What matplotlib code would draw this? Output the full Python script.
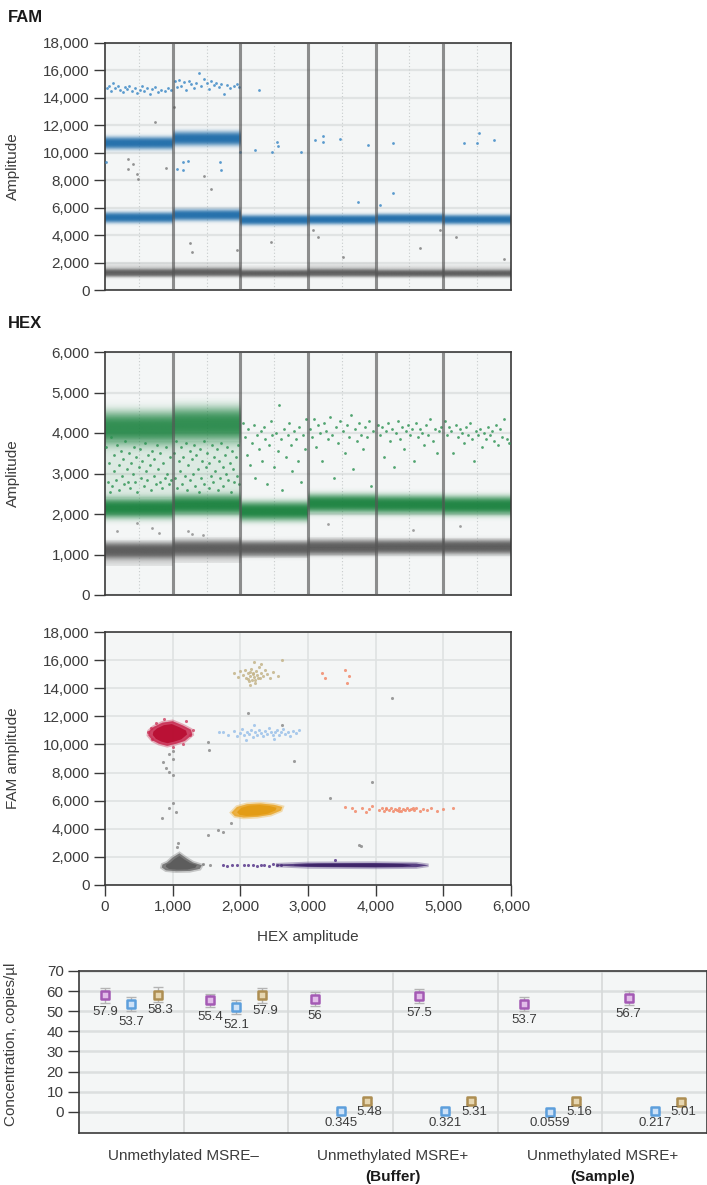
import numpy as np
import matplotlib.pyplot as plt
from matplotlib.patches import Polygon
from matplotlib.colors import to_rgb
from matplotlib.ticker import FuncFormatter, MultipleLocator

plt.rcParams['font.family'] = ['Liberation Sans', 'DejaVu Sans']

# ---------------- FAM 1-D plot (6 wells, amplitude bands) ----------------
fam_neg_mid = [1220, 1270, 1200, 1220, 1200, 1200]
fam_neg_half = [230, 240, 210, 220, 210, 210]
fam_neg_top = [1950, 2000, 1850, 1950, 1900, 1900]
fam_mid = [5250, 5450, 5050, 5150, 5200, 5100]
fam_mid_half = [300, 330, 290, 280, 270, 280]
fam_high = [10700, 11000]
fam_high_half = [360, 400]

# sparse droplets: (well, position in well, amplitude)
fam_blue_pts = [
    (0, 0.03, 14700), (0, 0.06, 14900), (0, 0.09, 14500), (0, 0.12, 15100), (0, 0.15, 14700),
    (0, 0.19, 14850), (0, 0.22, 14600), (0, 0.26, 14450), (0, 0.29, 14800), (0, 0.33, 14650),
    (0, 0.36, 14900), (0, 0.40, 14500), (0, 0.44, 14750), (0, 0.48, 14350), (0, 0.51, 14600),
    (0, 0.55, 14850), (0, 0.58, 14500), (0, 0.62, 14700), (0, 0.66, 14300), (0, 0.70, 14650),
    (0, 0.74, 14800), (0, 0.78, 14400), (0, 0.83, 14600), (0, 0.88, 14500), (0, 0.93, 14750),
    (0, 0.97, 14550), (0, 0.02, 9350),
    (1, 0.03, 15200), (1, 0.06, 14800), (1, 0.10, 15300), (1, 0.13, 14900), (1, 0.17, 15150),
    (1, 0.20, 14600), (1, 0.24, 15250), (1, 0.27, 15000), (1, 0.31, 14700), (1, 0.35, 15100),
    (1, 0.39, 15850), (1, 0.42, 14900), (1, 0.46, 15350), (1, 0.50, 15050), (1, 0.53, 14650),
    (1, 0.57, 15200), (1, 0.61, 14950), (1, 0.64, 15100), (1, 0.68, 14800), (1, 0.72, 15000),
    (1, 0.76, 14300), (1, 0.80, 14950), (1, 0.85, 14700), (1, 0.90, 14850), (1, 0.95, 15000),
    (1, 0.98, 14800), (1, 0.15, 9300), (1, 0.22, 9400), (1, 0.06, 8800), (1, 0.15, 8780),
    (1, 0.70, 9300), (1, 0.72, 8770),
    (2, 0.28, 14600), (2, 0.00, 10050), (2, 0.22, 10200), (2, 0.47, 10080), (2, 0.54, 10800),
    (2, 0.56, 10500), (2, 0.89, 10040),
    (3, 0.11, 10930), (3, 0.22, 11250), (3, 0.22, 10800), (3, 0.47, 10980), (3, 0.88, 10590),
    (3, 0.74, 6390),
    (4, 0.26, 10740), (4, 0.26, 7050), (4, 0.07, 6200),
    (5, 0.31, 10690), (5, 0.50, 10690), (5, 0.52, 11470), (5, 0.75, 10930),
]
fam_gray_pts = [
    (0, 0.34, 9530), (0, 0.41, 9180), (0, 0.34, 8850), (0, 0.47, 8430), (0, 0.49, 8090),
    (0, 0.74, 12270), (0, 0.90, 8920),
    (1, 0.02, 13300), (1, 0.47, 8310), (1, 0.57, 7380), (1, 0.25, 3400), (1, 0.28, 2800),
    (1, 0.95, 2920),
    (2, 0.46, 3500), (3, 0.08, 4370), (3, 0.15, 3830), (3, 0.52, 2430),
    (4, 0.66, 3040), (4, 0.95, 4370), (5, 0.18, 3880), (5, 0.90, 2240),
]

# ---------------- HEX 1-D plot ----------------
hex_neg_mid = [1100, 1150, 1140, 1170, 1180, 1180]
hex_neg_half = [150, 150, 140, 140, 130, 130]
hex_neg_lo = [720, 800, 920, 980, 1000, 1000]
hex_neg_hi = [1330, 1400, 1350, 1420, 1400, 1400]
hex_mid = [2150, 2230, 2080, 2250, 2220, 2200]
hex_mid_half = [200, 200, 190, 180, 180, 180]
hex_high = [4100, 4200]
hex_high_half = [320, 340]

hex_rain = [
    (0, 0.02, 3650), (0, 0.04, 2800), (0, 0.06, 3250), (0, 0.07, 2550), (0, 0.09, 3900),
    (0, 0.11, 2700), (0, 0.13, 3450), (0, 0.14, 3050), (0, 0.16, 2850), (0, 0.18, 3700),
    (0, 0.20, 3200), (0, 0.21, 2600), (0, 0.23, 3550), (0, 0.25, 2950), (0, 0.27, 3350),
    (0, 0.28, 2750), (0, 0.30, 3800), (0, 0.32, 3100), (0, 0.34, 2800), (0, 0.36, 3500),
    (0, 0.37, 2650), (0, 0.39, 3250), (0, 0.41, 3000), (0, 0.43, 3650), (0, 0.44, 2800),
    (0, 0.46, 3400), (0, 0.48, 2550), (0, 0.50, 3150), (0, 0.52, 3600), (0, 0.53, 2900),
    (0, 0.55, 3300), (0, 0.57, 2700), (0, 0.59, 3750), (0, 0.61, 3050), (0, 0.62, 2850),
    (0, 0.64, 3450), (0, 0.66, 3200), (0, 0.68, 2600), (0, 0.70, 3550), (0, 0.72, 2950),
    (0, 0.73, 3350), (0, 0.75, 2750), (0, 0.77, 3700), (0, 0.79, 3100), (0, 0.81, 2800),
    (0, 0.82, 3500), (0, 0.84, 2650), (0, 0.86, 3250), (0, 0.88, 2900), (0, 0.90, 3650),
    (0, 0.92, 3000), (0, 0.94, 2750), (0, 0.96, 3400), (0, 0.98, 2850),
    (1, 0.02, 3500), (1, 0.04, 2900), (1, 0.05, 3800), (1, 0.07, 2650), (1, 0.09, 3300),
    (1, 0.11, 3050), (1, 0.12, 3650), (1, 0.14, 2750), (1, 0.16, 3400), (1, 0.18, 2950),
    (1, 0.19, 3750), (1, 0.21, 2600), (1, 0.23, 3200), (1, 0.25, 3550), (1, 0.26, 2850),
    (1, 0.28, 3350), (1, 0.30, 3000), (1, 0.32, 3700), (1, 0.33, 2700), (1, 0.35, 3450),
    (1, 0.37, 3100), (1, 0.39, 2550), (1, 0.40, 3600), (1, 0.42, 2900), (1, 0.44, 3300),
    (1, 0.46, 3800), (1, 0.47, 2750), (1, 0.49, 3150), (1, 0.51, 3500), (1, 0.53, 2650),
    (1, 0.54, 3250), (1, 0.56, 2950), (1, 0.58, 3700), (1, 0.60, 2800), (1, 0.61, 3400),
    (1, 0.63, 3050), (1, 0.65, 3600), (1, 0.67, 2600), (1, 0.68, 3300), (1, 0.70, 2900),
    (1, 0.72, 3750), (1, 0.74, 3150), (1, 0.75, 2700), (1, 0.77, 3450), (1, 0.79, 3000),
    (1, 0.81, 3650), (1, 0.82, 2850), (1, 0.84, 3250), (1, 0.86, 2550), (1, 0.88, 3550),
    (1, 0.89, 3100), (1, 0.91, 2800), (1, 0.93, 3400), (1, 0.95, 2950), (1, 0.97, 3700),
    (1, 0.98, 2750),
    (2, 0.04, 4250), (2, 0.07, 3900), (2, 0.10, 3450), (2, 0.12, 4100), (2, 0.15, 3200),
    (2, 0.17, 3750), (2, 0.20, 4200), (2, 0.22, 2900), (2, 0.25, 3950), (2, 0.27, 3600),
    (2, 0.30, 4050), (2, 0.32, 3300), (2, 0.35, 4150), (2, 0.37, 3850), (2, 0.40, 2750),
    (2, 0.42, 3700), (2, 0.45, 4300), (2, 0.47, 3950), (2, 0.50, 3150), (2, 0.52, 4000),
    (2, 0.55, 3550), (2, 0.57, 4700), (2, 0.60, 3850), (2, 0.62, 2600), (2, 0.65, 4100),
    (2, 0.67, 3400), (2, 0.70, 3950), (2, 0.72, 4250), (2, 0.75, 3700), (2, 0.77, 3050),
    (2, 0.80, 4050), (2, 0.82, 3850), (2, 0.85, 3300), (2, 0.87, 4150), (2, 0.90, 2800),
    (2, 0.92, 3950), (2, 0.95, 3600), (2, 0.97, 4350),
    (3, 0.03, 4100), (3, 0.06, 3900), (3, 0.09, 4350), (3, 0.12, 3650), (3, 0.15, 4200),
    (3, 0.18, 4000), (3, 0.21, 3300), (3, 0.24, 4250), (3, 0.27, 4050), (3, 0.30, 3850),
    (3, 0.33, 4400), (3, 0.36, 3950), (3, 0.39, 2900), (3, 0.42, 4150), (3, 0.45, 3750),
    (3, 0.48, 4300), (3, 0.51, 4050), (3, 0.54, 3500), (3, 0.57, 4200), (3, 0.60, 3900),
    (3, 0.63, 4450), (3, 0.66, 3100), (3, 0.69, 4100), (3, 0.72, 3800), (3, 0.75, 4250),
    (3, 0.78, 3950), (3, 0.81, 3600), (3, 0.84, 4150), (3, 0.87, 3900), (3, 0.90, 4300),
    (3, 0.93, 2700), (3, 0.96, 4050),
    (4, 0.03, 4200), (4, 0.06, 3950), (4, 0.09, 4150), (4, 0.12, 3400), (4, 0.15, 4050),
    (4, 0.18, 4250), (4, 0.21, 3800), (4, 0.24, 4100), (4, 0.27, 3150), (4, 0.30, 4000),
    (4, 0.33, 4300), (4, 0.36, 3850), (4, 0.39, 4150), (4, 0.42, 3600), (4, 0.45, 4050),
    (4, 0.48, 4200), (4, 0.51, 3950), (4, 0.54, 4100), (4, 0.57, 3300), (4, 0.60, 4250),
    (4, 0.63, 3900), (4, 0.66, 4100), (4, 0.69, 4000), (4, 0.72, 3700), (4, 0.75, 4200),
    (4, 0.78, 3950), (4, 0.81, 4350), (4, 0.84, 3800), (4, 0.87, 4100), (4, 0.90, 3500),
    (4, 0.94, 4050), (4, 0.97, 4150),
    (5, 0.03, 4300), (5, 0.06, 3950), (5, 0.09, 4150), (5, 0.12, 4050), (5, 0.15, 3500),
    (5, 0.18, 4200), (5, 0.21, 3900), (5, 0.24, 4100), (5, 0.27, 4000), (5, 0.30, 3750),
    (5, 0.33, 4150), (5, 0.36, 3950), (5, 0.39, 4250), (5, 0.42, 3850), (5, 0.45, 3300),
    (5, 0.48, 4050), (5, 0.51, 3950), (5, 0.54, 4100), (5, 0.57, 3650), (5, 0.60, 4000),
    (5, 0.63, 3850), (5, 0.66, 4150), (5, 0.69, 3950), (5, 0.72, 4050), (5, 0.75, 3800),
    (5, 0.78, 4200), (5, 0.81, 3700), (5, 0.84, 4100), (5, 0.87, 3900), (5, 0.90, 4350),
    (5, 0.94, 3850), (5, 0.97, 3750),
]
hex_gray_pts = [
    (0, 0.18, 1580), (0, 0.47, 1770), (0, 0.70, 1650), (0, 0.80, 1520),
    (1, 0.22, 1580), (1, 0.28, 1500), (1, 0.45, 1470),
    (3, 0.30, 1750), (4, 0.55, 1600), (5, 0.25, 1700),
]

# ---------------- 2-D plot (HEX amplitude, FAM amplitude) ----------------
red_hex = [640, 700, 800, 920, 1050, 1180, 1290, 1270, 1150, 1000, 850, 720, 650]
red_fam = [10650, 10300, 10050, 9900, 10050, 10250, 10700, 11050, 11350, 11650, 11550, 11250, 10950]
neg_hex = [840, 900, 1050, 1250, 1400, 1430, 1300, 1200, 1100, 1000, 920, 850]
neg_fam = [1250, 1050, 980, 1000, 1150, 1400, 1600, 1900, 2250, 1950, 1600, 1450]
orange_hex = [1870, 1920, 2050, 2250, 2450, 2600, 2620, 2500, 2300, 2100, 1950]
orange_fam = [5150, 4900, 4800, 4850, 5000, 5300, 5550, 5700, 5800, 5750, 5550]
purple_hex = [2550, 3000, 4000, 4600, 4780, 4600, 4000, 3000, 2550]
purple_fam = [1380, 1280, 1250, 1270, 1400, 1520, 1560, 1540, 1450]

red_pts = [(640, 10900), (700, 10400), (760, 11500), (1250, 10700), (1300, 11000),
           (1200, 11650), (870, 11800), (1000, 9850), (1150, 10000), (680, 11200)]
purple_pts = [(1750, 1420), (1800, 1380), (1870, 1400), (1950, 1430), (2050, 1390),
              (2120, 1450), (2180, 1400), (2250, 1370), (2300, 1440), (2350, 1410),
              (2420, 1380), (2480, 1460), (2540, 1400), (2600, 1430), (3400, 1750)]
lightblue_pts = [(1680, 10850), (1750, 10900), (1820, 10700), (1900, 10950), (1950, 10600),
                 (2000, 10800), (2030, 11100), (2060, 10650), (2100, 10900), (2130, 10750),
                 (2160, 11050), (2190, 10500), (2210, 10850), (2240, 10700), (2270, 11000),
                 (2300, 10800), (2330, 10600), (2360, 10950), (2390, 10750), (2420, 11150),
                 (2450, 10850), (2480, 10650), (2510, 10900), (2540, 11000), (2570, 10700),
                 (2600, 10850), (2630, 11100), (2660, 10750), (2700, 10900), (2740, 10600),
                 (2780, 10950), (2830, 10800), (2870, 11050), (2200, 11400), (2080, 10300),
                 (2500, 10400)]
tan_pts = [(1900, 15050), (1960, 14800), (2000, 15200), (2040, 14950), (2070, 15300),
           (2090, 14700), (2110, 15050), (2130, 14500), (2150, 14900), (2160, 15400),
           (2180, 15100), (2200, 14800), (2210, 14350), (2230, 15200), (2250, 14950),
           (2270, 15500), (2290, 14700), (2310, 15050), (2340, 14850), (2370, 15300),
           (2400, 15000), (2440, 14750), (2480, 15150), (2550, 14900), (2200, 15900),
           (2140, 14250), (2620, 16000), (2300, 15700), (2120, 14650), (2170, 14600),
           (2190, 15000), (2220, 14550), (2140, 15150), (2260, 14700)]
salmon_pts = [(3550, 5550), (3650, 5500), (3700, 5300), (3800, 5450), (3850, 5200),
              (3900, 5400), (3950, 5600), (4050, 5350), (4100, 5450), (4130, 5300),
              (4160, 5400), (4190, 5350), (4220, 5450), (4250, 5300), (4280, 5400),
              (4310, 5350), (4340, 5450), (4370, 5300), (4400, 5400), (4430, 5350),
              (4460, 5450), (4490, 5320), (4520, 5400), (4560, 5350), (4600, 5450),
              (4650, 5300), (4700, 5400), (4760, 5350), (4820, 5450), (4900, 5300),
              (5000, 5400), (5150, 5450), (4150, 5500), (4350, 5250), (4550, 5500),
              (3200, 15050), (3250, 14700), (3550, 15300), (3600, 14850), (3580, 14400)]
gray_pts = [(1527, 10190), (1540, 9600), (860, 8750), (900, 8300), (950, 8050), (1010, 7820),
            (950, 9300), (1000, 9500), (1000, 5800), (950, 5500), (1050, 5200), (837, 4760),
            (1058, 2720), (1080, 3000), (1525, 3550), (1670, 3920), (1865, 4430), (2113, 12250),
            (2620, 11400), (2790, 8830), (3320, 6180), (3780, 2810), (4240, 13270), (3950, 7350),
            (3760, 2840), (1000, 9000), (1450, 1500), (1550, 1400), (1750, 3800)]

# ---------------- Concentration plot ----------------
groups = ['Unmethylated MSRE\u2013', 'Unmethylated MSRE+', 'Unmethylated MSRE+']
group_sub = ['', '(Buffer)', '(Sample)']
conc_purple = [57.9, 55.4, 56, 57.5, 53.7, 56.7]
conc_blue = [53.7, 52.1, 0.345, 0.321, 0.0559, 0.217]
conc_tan = [58.3, 57.9, 5.48, 5.31, 5.16, 5.01]
err_purple = [3.6, 3.4, 3.5, 3.6, 3.4, 3.5]
err_blue = [3.4, 3.3, 0.5, 0.5, 0.3, 0.4]
err_tan = [3.6, 3.6, 1.3, 1.3, 1.3, 1.3]
conc_labels_blue = ['53.7', '52.1', '0.345', '0.321', '0.0559', '0.217']

# ---------------- styling helpers ----------------
BG = '#f4f6f6'
TXT = '#3c3c3c'
comma = FuncFormatter(lambda v, p: f'{int(v):,}')


def style_axes(ax):
    ax.set_facecolor(BG)
    for s in ax.spines.values():
        s.set_color('#3a3a3a')
        s.set_linewidth(1.2)
    ax.tick_params(direction='out', length=8, width=1, color='#3a3a3a',
                   labelcolor=TXT, labelsize=11, pad=3)


def grad(ax, x0, x1, y0, y1, color, alpha):
    img = np.zeros((len(alpha), 1, 4))
    img[..., :3] = to_rgb(color)
    img[:, 0, 3] = alpha
    ax.imshow(img, extent=[x0, x1, y0, y1], origin='lower', aspect='auto',
              interpolation='bilinear', zorder=2)


def band(ax, i, centre, half, color, peak=0.95):
    z = np.linspace(-2.2, 2.2, 89)
    grad(ax, i, i + 1, centre - 2.2 * half, centre + 2.2 * half, color,
         peak * np.exp(-0.5 * np.abs(z) ** 3))


def wells_decor(ax):
    for i in range(6):
        ax.axvline(i + 0.5, color='#c8cccc', lw=0.8, ls=(0, (1, 2)), zorder=1)
    for i in range(1, 6):
        ax.axvline(i, color='#555555', lw=2.2, alpha=0.65, zorder=5)


def pts_xy(pts):
    return [w + f for w, f, a in pts], [a for w, f, a in pts]


fig = plt.figure(figsize=(7.07, 11.85), dpi=100)
W, H = 707, 1185


def add_ax(l, t, r, b):
    return fig.add_axes([l / W, 1 - b / H, (r - l) / W, (b - t) / H])


# ---- FAM panel ----
ax1 = add_ax(105, 43, 511, 290)
style_axes(ax1)
ax1.grid(axis='y', color='#e0e3e3', lw=1.6, zorder=0)
ax1.set_axisbelow(True)
wells_decor(ax1)
for i in range(6):
    grad(ax1, i, i + 1, fam_neg_mid[i], fam_neg_top[i], '#7a7a7a',
         np.linspace(0.55, 0.05, 40))
    band(ax1, i, fam_neg_mid[i], fam_neg_half[i], '#5a5a5a')
    band(ax1, i, fam_mid[i], fam_mid_half[i], '#1b6aa8')
for i in range(len(fam_high)):
    band(ax1, i, fam_high[i], fam_high_half[i], '#1b6aa8')
x, y = pts_xy(fam_blue_pts)
ax1.scatter(x, y, s=4, color='#3f8ac6', alpha=0.85, lw=0, zorder=3)
x, y = pts_xy(fam_gray_pts)
ax1.scatter(x, y, s=4, color='#808080', alpha=0.85, lw=0, zorder=3)
ax1.set_xlim(0, 6)
ax1.set_xticks([])
ax1.set_ylim(0, 18000)
ax1.yaxis.set_major_locator(MultipleLocator(2000))
ax1.yaxis.set_major_formatter(comma)
ax1.set_ylabel('Amplitude', fontsize=11, color=TXT)
ax1.yaxis.set_label_coords(-0.209, 0.5)
fig.text(8 / W, 1 - 17 / H, 'FAM', fontsize=12, fontweight='bold', color='#1a1a1a', va='center')

# ---- HEX panel ----
ax2 = add_ax(105, 352, 511, 595)
style_axes(ax2)
ax2.grid(axis='y', color='#e0e3e3', lw=1.6, zorder=0)
ax2.set_axisbelow(True)
wells_decor(ax2)
for i in range(6):
    grad(ax2, i, i + 1, hex_neg_lo[i], hex_neg_mid[i], '#7a7a7a',
         np.linspace(0.15, 0.6, 40))
    grad(ax2, i, i + 1, hex_neg_mid[i], hex_neg_hi[i], '#7a7a7a',
         np.linspace(0.6, 0.1, 40))
    band(ax2, i, hex_neg_mid[i], hex_neg_half[i], '#5a5a5a')
    band(ax2, i, hex_mid[i], hex_mid_half[i], '#17803c')
for i in range(len(hex_high)):
    grad(ax2, i, i + 1, 2400, 3800, '#2e9452', np.full(10, 0.12))
    band(ax2, i, hex_high[i], hex_high_half[i], '#17803c', peak=0.88)
x, y = pts_xy(hex_rain)
ax2.scatter(x, y, s=4, color='#2a9150', alpha=0.8, lw=0, zorder=3)
x, y = pts_xy(hex_gray_pts)
ax2.scatter(x, y, s=4, color='#8a8a8a', alpha=0.8, lw=0, zorder=3)
ax2.set_xlim(0, 6)
ax2.set_xticks([])
ax2.set_ylim(0, 6000)
ax2.yaxis.set_major_locator(MultipleLocator(1000))
ax2.yaxis.set_major_formatter(comma)
ax2.set_ylabel('Amplitude', fontsize=11, color=TXT)
ax2.yaxis.set_label_coords(-0.209, 0.5)
fig.text(8 / W, 1 - 324 / H, 'HEX', fontsize=12, fontweight='bold', color='#1a1a1a', va='center')

# ---- 2-D panel ----
ax3 = add_ax(105, 632, 511, 885)
style_axes(ax3)
ax3.set_xlim(0, 6000)
ax3.set_ylim(0, 18000)
ax3.xaxis.set_major_locator(MultipleLocator(1000))
ax3.yaxis.set_major_locator(MultipleLocator(2000))
ax3.xaxis.set_major_formatter(comma)
ax3.yaxis.set_major_formatter(comma)
ax3.grid(color='#dfe2e2', lw=1.2, zorder=0)
ax3.set_axisbelow(True)


def blob(ax, hx, fy, color, core):
    p = np.column_stack([hx, fy]).astype(float)
    c = p.mean(axis=0)
    ax.add_patch(Polygon(p, closed=True, fc=color, ec=color, lw=2.5, alpha=0.35, zorder=3))
    ax.add_patch(Polygon(p, closed=True, fc=color, ec='none', alpha=0.8, zorder=3))
    ax.add_patch(Polygon(c + (p - c) * 0.78, closed=True, fc=core, ec='none',
                         alpha=0.9, zorder=3))


def pts2(ax, pts, color, s=5):
    ax.scatter([p[0] for p in pts], [p[1] for p in pts], s=s, color=color,
               alpha=0.85, lw=0, zorder=3)


pts2(ax3, gray_pts, '#8c8c8c')
pts2(ax3, lightblue_pts, '#9cc2ea')
pts2(ax3, tan_pts, '#c4b48a')
pts2(ax3, salmon_pts, '#f28a6a')
pts2(ax3, purple_pts, '#5a3a8c')
pts2(ax3, red_pts, '#d04a6a')
blob(ax3, red_hex, red_fam, '#c8284e', '#b80c30')
blob(ax3, neg_hex, neg_fam, '#6e6e6e', '#5a5a5a')
blob(ax3, orange_hex, orange_fam, '#eaa628', '#e39a10')
blob(ax3, purple_hex, purple_fam, '#4a2f78', '#3c2266')
ax3.set_ylabel('FAM amplitude', fontsize=11, color=TXT)
ax3.yaxis.set_label_coords(-0.209, 0.5)
ax3.set_xlabel('HEX amplitude', fontsize=11, color=TXT)
ax3.xaxis.set_label_coords(0.5, -0.178)

# ---- concentration panel ----
ax4 = add_ax(79, 971, 707, 1133)
style_axes(ax4)
ax4.set_xlim(0, 6)
ax4.set_ylim(-10.5, 70)
ax4.set_yticks(range(0, 80, 10))
ax4.set_xticks([])
ax4.grid(axis='y', color='#dcdfdf', lw=1.8, zorder=0)
ax4.set_axisbelow(True)
for i in range(1, 6):
    ax4.axvline(i, color='#d6d9d9', lw=1.2, zorder=1)

series = [
    (0.25, conc_purple, err_purple, [str(v) for v in conc_purple], '#e2bde9', '#a45ab4', (0, -2.5)),
    (0.5, conc_blue, err_blue, conc_labels_blue, '#cfe2f7', '#5d9fdc', (0, -3.5)),
    (0.75, conc_tan, err_tan, [str(v) for v in conc_tan], '#e6d6b0', '#ad8e52', (2, -1.5)),
]
for off, vals, errs, labs, fc, ec, toff in series:
    xs = np.arange(6) + off
    ax4.errorbar(xs, vals, yerr=errs, fmt='none', ecolor='#b4b4b4', elinewidth=1,
                 capsize=3.5, capthick=1, zorder=3)
    ax4.scatter(xs, vals, marker='s', s=34, facecolor=fc, edgecolor=ec, lw=1.8, zorder=4)
    for xv, v, e, lab in zip(xs, vals, errs, labs):
        ax4.annotate(lab, (xv, v - e), xytext=toff, textcoords='offset points',
                     ha='center', va='top', fontsize=9.5, color=TXT, zorder=5)

ax4.set_ylabel('Concentration, copies/\u00b5l', fontsize=11, color=TXT)
ax4.yaxis.set_label_coords(-0.097, 0.55)
for k, (g, sub) in enumerate(zip(groups, group_sub)):
    xc = 2 * k + 1
    ax4.text(xc, -0.142, g, transform=ax4.get_xaxis_transform(), ha='center', va='center',
             fontsize=11, color=TXT)
    if sub:
        ax4.text(xc, -0.272, sub, transform=ax4.get_xaxis_transform(), ha='center',
                 va='center', fontsize=11, fontweight='bold', color='#1a1a1a')

fig.savefig('out.png', dpi=100)
